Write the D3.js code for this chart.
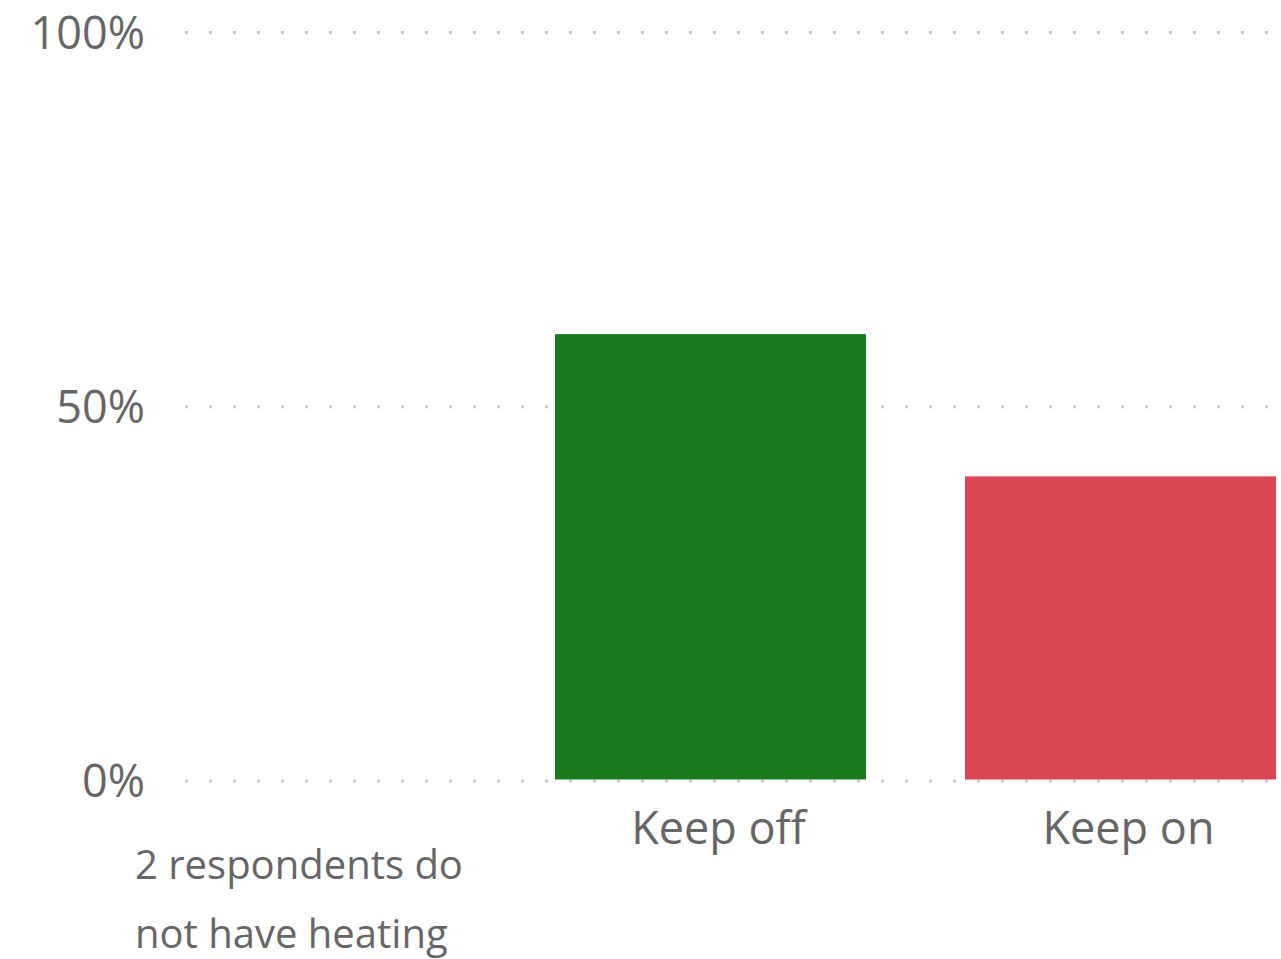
<!DOCTYPE html>
<html>
<head>
<meta charset="utf-8">
<script src="https://cdn.jsdelivr.net/npm/d3@7"></script>
<style>
  html, body { margin: 0; padding: 0; background: #fff; }
  svg { display: block; }
  text { font-family: "Open Sans", "Noto Sans", sans-serif; fill: #666666; }
</style>
</head>
<body>
<svg id="chart" width="1281" height="959"></svg>
<script>
const categories = ["2 respondents do not have heating", "Keep off", "Keep on"];
const categoryLines = [["2 respondents do", "not have heating"], ["Keep off"], ["Keep on"]];
const values = [null, 0.597, 0.407];
const colors = ["#1b7a1b", "#1b7a1b", "#d94652"];
const yTicks = [0, 0.5, 1];
const yTickLabels = ["0%", "50%", "100%"];

const svg = d3.select("#chart");

const x = d3.scaleBand().domain(categories).range([145, 1276]).paddingInner(0.2415).paddingOuter(0);
const y = d3.scaleLinear().domain([0, 1]).range([781, 32.5]);

// gridlines
svg.append("g").selectAll("line").data(yTicks).join("line")
  .attr("x1", 185).attr("x2", 1281)
  .attr("y1", d => y(d)).attr("y2", d => y(d))
  .attr("stroke", "#c8c8c8").attr("stroke-width", 3)
  .attr("stroke-dasharray", "3 21");

// y labels
svg.append("g").selectAll("text").data(yTicks).join("text")
  .attr("x", 145).attr("y", d => y(d) + 16)
  .attr("text-anchor", "end")
  .attr("font-size", 45)
  .text((d, i) => yTickLabels[i]);

// bars
svg.append("g").selectAll("rect").data(categories.map((c, i) => ({c, v: values[i], col: colors[i]})).filter(d => d.v != null))
  .join("rect")
  .attr("x", d => x(d.c)).attr("width", x.bandwidth())
  .attr("y", d => y(d.v)).attr("height", d => y(0) - 1.5 - y(d.v))
  .attr("fill", d => d.col);

// category labels
const lab = svg.append("g");
categories.forEach((c, i) => {
  const lines = categoryLines[i];
  if (lines.length > 1) {
    const t = lab.append("text").attr("font-size", 40).attr("text-anchor", "start");
    lines.forEach((ln, j) => {
      t.append("tspan").attr("x", x(c) - 10).attr("y", 879 + j * 69).text(ln);
    });
  } else {
    lab.append("text").attr("font-size", 45).attr("text-anchor", "middle")
      .attr("x", x(c) + x.bandwidth() / 2 + 8).attr("y", 844).text(lines[0]);
  }
});
</script>
</body>
</html>
